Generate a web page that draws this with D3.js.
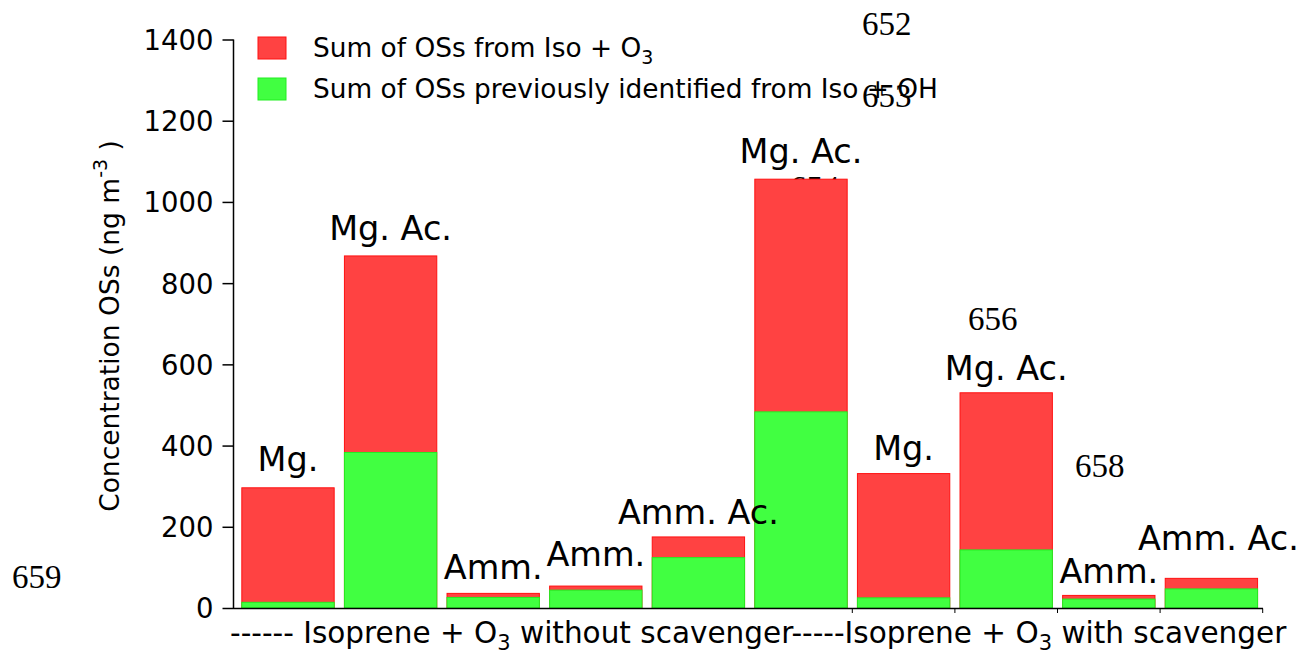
<!DOCTYPE html>
<html>
<head>
<meta charset="utf-8">
<script src="https://cdn.jsdelivr.net/npm/d3@7"></script>
<style>
  body { margin: 0; background: #fff; }
  text { font-family: 'DejaVu Sans', sans-serif; fill: #000; }
  .page-no { font-family: 'Liberation Serif', serif; font-size: 33px; }
</style>
</head>
<body>
<div id="chart"></div>
<script>
// salt used in each experiment
var salts = ['Mg.', 'Mg. Ac.', 'Amm.', 'Amm.', 'Amm. Ac.', 'Mg. Ac.', 'Mg.', 'Mg. Ac.', 'Amm.', 'Amm. Ac.']
// sum of OSs from Iso + O3 (total bar height, ng m-3)
var totalOS = [296, 867, 36, 54, 175, 1056, 331, 530, 31, 73]
// sum of OSs previously identified from Iso + OH (ng m-3)
var ohOS = [14, 383, 26, 44, 124, 483, 25, 143, 22, 47]
var yTicks = [0, 200, 400, 600, 800, 1000, 1200, 1400]
// stray line numbers from the manuscript
var pageNumbers = ['652', '653', '654', '656', '657', '658', '659']

var svgWidth = 1308
var svgHeight = 653

var svg = d3.select('#chart')
  .append('svg')
  .attr('width', svgWidth)
  .attr('height', svgHeight)

var xScale = d3.scaleBand()
  .domain(d3.range(salts.length))
  .range([236.7, 1262.7])
  .paddingInner(0.1)
  .paddingOuter(0.05)

var yScale = d3.scaleLinear()
  .domain([0, 1400])
  .range([608, 39.5])

// page numbers sit behind the bars (two of them are mostly hidden)
var pagePos = [[862, 35], [862, 107], [790, 199], [968, 330], [1001, 417], [1075, 477], [12, 588]]
svg.selectAll('.page-no')
  .data(pageNumbers)
  .enter()
  .append('text')
  .attr('class', 'page-no')
  .attr('x', (d, i) => pagePos[i][0])
  .attr('y', (d, i) => pagePos[i][1])
  .text(d => d)

// red: total from Iso + O3
svg.selectAll('.bar-total')
  .data(totalOS)
  .enter()
  .append('rect')
  .attr('class', 'bar-total')
  .attr('x', (d, i) => xScale(i))
  .attr('y', d => yScale(d))
  .attr('width', xScale.bandwidth())
  .attr('height', d => yScale(0) - yScale(d))
  .attr('fill', '#ff4242')
  .attr('stroke', '#ff1010')
  .attr('stroke-width', 1)

// green: previously identified from Iso + OH
svg.selectAll('.bar-oh')
  .data(ohOS)
  .enter()
  .append('rect')
  .attr('class', 'bar-oh')
  .attr('x', (d, i) => xScale(i))
  .attr('y', d => yScale(d))
  .attr('width', xScale.bandwidth())
  .attr('height', d => yScale(0) - yScale(d))
  .attr('fill', '#41ff41')
  .attr('stroke', '#22ee22')
  .attr('stroke-width', 1)

// salt labels above bars, gap in px between bar top and label baseline
var labelGap = [17, 16, 14, 20, 13, 16, 14, 13, 12, 28]
svg.selectAll('.salt')
  .data(salts)
  .enter()
  .append('text')
  .attr('class', 'salt')
  .attr('x', (d, i) => xScale(i) + xScale.bandwidth() / 2 + (i === salts.length - 1 ? 7 : 0))
  .attr('y', (d, i) => yScale(totalOS[i]) - labelGap[i])
  .attr('text-anchor', 'middle')
  .style('font-size', '33.5px')
  .text(d => d)

// y axis
var leftAxis = d3.axisLeft(yScale)
  .tickValues(yTicks)
  .tickFormat(d3.format('d'))
  .tickSizeInner(11)
  .tickSizeOuter(0)
  .tickPadding(9)

var yAxisG = svg.append('g')
  .attr('transform', 'translate(233.5, 0)')
  .call(leftAxis)
yAxisG.select('.domain').attr('stroke', '#000').attr('stroke-width', 1.5)
  .attr('d', `M0,${yScale(1400)}V609`)
yAxisG.selectAll('.tick line').attr('stroke', '#000').attr('stroke-width', 1.5)
yAxisG.selectAll('.tick text')
  .style('font-family', "'DejaVu Sans', sans-serif")
  .style('font-size', '27.5px')
  .attr('dy', '0.36em')

// x axis line with ticks at the band edges on the right half
var edges = d3.range(6, salts.length + 1).map(i => xScale.range()[0] + i * xScale.step())
svg.append('line')
  .attr('x1', 233.5)
  .attr('x2', 1263)
  .attr('y1', 608.5)
  .attr('y2', 608.5)
  .attr('stroke', '#000')
  .attr('stroke-width', 1.5)
svg.selectAll('.xtick')
  .data(edges)
  .enter()
  .append('line')
  .attr('class', 'xtick')
  .attr('x1', d => d)
  .attr('x2', d => d)
  .attr('y1', 608.5)
  .attr('y2', 613)
  .attr('stroke', '#000')
  .attr('stroke-width', 1)

// x axis label
var xLabel = svg.append('text')
  .attr('x', 230)
  .attr('y', 643)
  .style('font-size', '29.5px')
xLabel.append('tspan').text('------ Isoprene + O')
xLabel.append('tspan').attr('dy', 7).style('font-size', '21px').text('3')
xLabel.append('tspan').attr('dy', -7).text(' without scavenger-----Isoprene + O')
xLabel.append('tspan').attr('dy', 7).style('font-size', '21px').text('3')
xLabel.append('tspan').attr('dy', -7).text(' with scavenger')

// y axis title
var yLabel = svg.append('text')
  .attr('transform', 'translate(119, 326) rotate(-90)')
  .attr('text-anchor', 'middle')
  .style('font-size', '26.5px')
yLabel.append('tspan').text('Concentration OSs (ng m')
yLabel.append('tspan').attr('dy', -12).style('font-size', '19px').text('-3')
yLabel.append('tspan').attr('dy', 12).text(' )')

// legend
var legendItems = [
  { fill: '#ff4242', stroke: '#ff1010', y: 37 },
  { fill: '#41ff41', stroke: '#22ee22', y: 78 }
]
svg.selectAll('.legend-box')
  .data(legendItems)
  .enter()
  .append('rect')
  .attr('class', 'legend-box')
  .attr('x', 258)
  .attr('y', d => d.y)
  .attr('width', 28)
  .attr('height', 22)
  .attr('fill', d => d.fill)
  .attr('stroke', d => d.stroke)

var leg1 = svg.append('text')
  .attr('x', 313)
  .attr('y', 57)
  .style('font-size', '26.4px')
leg1.append('tspan').text('Sum of OSs from Iso + O')
leg1.append('tspan').attr('dy', 7).style('font-size', '19px').text('3')

svg.append('text')
  .attr('x', 313)
  .attr('y', 98)
  .style('font-size', '26.4px')
  .text('Sum of OSs previously identified from Iso + OH')
</script>
</body>
</html>
